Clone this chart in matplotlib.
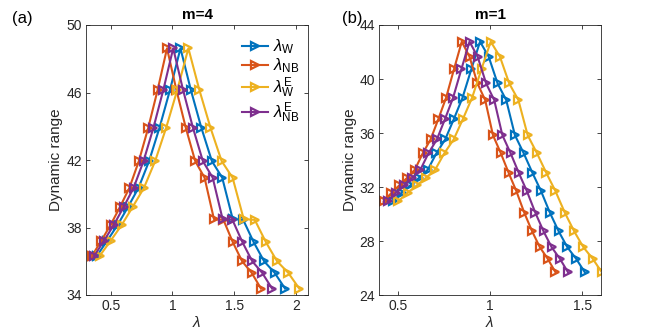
import matplotlib
matplotlib.use("Agg")
import matplotlib.pyplot as plt

plt.rcParams['font.family'] = ['Liberation Sans', 'DejaVu Sans']
plt.rcParams['mathtext.fontset'] = 'custom'
plt.rcParams['mathtext.rm'] = 'Liberation Sans'
plt.rcParams['mathtext.it'] = 'Liberation Sans:italic'

# ---------- panel (a): m=4 ----------
a_y = [36.31, 37.22, 38.15, 39.23, 40.36, 41.94, 43.91, 46.15, 48.62,
       46.15, 43.91, 41.94, 40.95, 38.50, 38.45, 37.14, 36.00, 35.32, 34.38]
a_W = [0.387, 0.472, 0.556, 0.641, 0.726, 0.811, 0.895, 0.980, 1.065,
       1.149, 1.234, 1.319, 1.403, 1.488, 1.573, 1.657, 1.742, 1.827, 1.912]
a_NB = [0.348, 0.424, 0.499, 0.576, 0.652, 0.728, 0.804, 0.880, 0.956,
        1.032, 1.108, 1.184, 1.260, 1.336, 1.413, 1.488, 1.564, 1.641, 1.717]
a_WE = [0.410, 0.500, 0.589, 0.679, 0.770, 0.860, 0.949, 1.039, 1.129,
        1.218, 1.308, 1.398, 1.487, 1.577, 1.667, 1.756, 1.847, 1.937, 2.027]
a_NBE = [0.366, 0.446, 0.525, 0.606, 0.686, 0.766, 0.846, 0.926, 1.006,
         1.086, 1.166, 1.246, 1.326, 1.406, 1.486, 1.566, 1.646, 1.726, 1.807]

# ---------- panel (b): m=1 ----------
b_y = [30.96, 31.58, 32.13, 32.70, 33.30, 34.50, 35.53, 37.04, 38.62, 40.74, 42.77,
       41.65, 39.68, 38.44, 35.85, 34.50, 33.06, 31.70, 30.10, 28.74, 27.56, 26.70, 25.70]
b_W = [0.474, 0.521, 0.568, 0.616, 0.663, 0.709, 0.757, 0.804, 0.851, 0.899, 0.946,
       0.993, 1.041, 1.088, 1.135, 1.183, 1.230, 1.277, 1.325, 1.372, 1.419, 1.467, 1.514]
b_NB = [0.424, 0.466, 0.508, 0.551, 0.593, 0.635, 0.678, 0.720, 0.762, 0.805, 0.847,
        0.889, 0.932, 0.974, 1.016, 1.059, 1.101, 1.143, 1.186, 1.228, 1.270, 1.313, 1.355]
b_WE = [0.503, 0.553, 0.603, 0.654, 0.703, 0.752, 0.803, 0.853, 0.903, 0.954, 1.004,
        1.054, 1.104, 1.154, 1.204, 1.255, 1.305, 1.355, 1.406, 1.456, 1.506, 1.557, 1.606]
b_NBE = [0.446, 0.490, 0.534, 0.579, 0.623, 0.666, 0.712, 0.756, 0.800, 0.845, 0.889,
         0.933, 0.979, 1.023, 1.067, 1.112, 1.156, 1.200, 1.246, 1.290, 1.334, 1.379, 1.423]

labels = [r'$\lambda_{\rm W}$', r'$\lambda_{\rm NB}$',
          r'$\lambda_{\rm W}^{\rm E}$', r'$\lambda_{\rm NB}^{\rm E}$']
colors = ['#0072BD', '#D95319', '#EDB120', '#7E2F8E']

W, H = 664, 332
fig = plt.figure(figsize=(W / 100, H / 100), dpi=100)

def add_ax(l, r, t, b):
    return fig.add_axes([l / W, 1 - b / H, (r - l) / W, (b - t) / H])

axA = add_ax(86, 308.3, 25, 295)
axB = add_ax(379.3, 600.7, 25, 295.3)

def draw(ax, xs_list, y):
    for xs, c, lab in zip(xs_list, colors, labels):
        ax.plot(xs, y, '-', marker='>', color=c, lw=1.5, ms=5.5,
                mfc='none', mec=c, mew=1.6, label=lab)

draw(axA, [a_W, a_NB, a_WE, a_NBE], a_y)
draw(axB, [b_W, b_NB, b_WE, b_NBE], b_y)

axA.set_xlim(0.3, 2.1)
axA.set_ylim(34, 50)
axA.set_xticks([0.5, 1, 1.5, 2])
axA.set_xticklabels(['0.5', '1', '1.5', '2'])
axA.set_yticks([34, 38, 42, 46, 50])

axB.set_xlim(0.4, 1.6)
axB.set_ylim(24, 44)
axB.set_xticks([0.5, 1, 1.5])
axB.set_xticklabels(['0.5', '1', '1.5'])
axB.set_yticks([24, 28, 32, 36, 40, 44])

for ax, title in [(axA, 'm=4'), (axB, 'm=1')]:
    ax.set_title(title, fontsize=11, fontweight='bold', pad=4, color='#000000')
    ax.set_xlabel(r'$\lambda$', fontsize=11, labelpad=1, color='#262626')
    ax.set_ylabel('Dynamic range', fontsize=11, labelpad=2, color='#262626')
    ax.tick_params(direction='in', length=3, width=0.6, labelsize=10,
                   colors='#262626', top=True, right=True, pad=3)
    for s in ax.spines.values():
        s.set_color('#262626')
        s.set_linewidth(0.6)

leg = axA.legend(loc='upper right', frameon=False, fontsize=12,
                 handlelength=1.6, handletextpad=0.3, labelspacing=0.02,
                 borderaxespad=0.1, bbox_to_anchor=(1.0, 0.985))

fig.text(12 / W, 1 - 18 / H, '(a)', fontsize=12, va='center', ha='left')
fig.text(342 / W, 1 - 18 / H, '(b)', fontsize=12, va='center', ha='left')

fig.savefig('out.png', dpi=100)
